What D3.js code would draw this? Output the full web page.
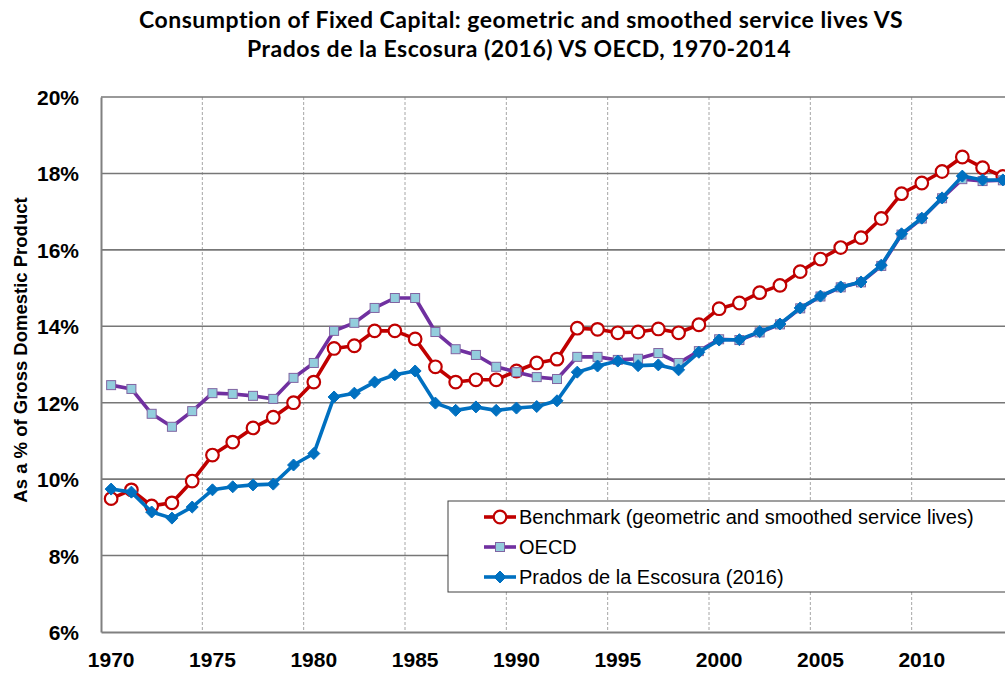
<!DOCTYPE html>
<html lang="en">
<head>
<meta charset="UTF-8">
<title>Consumption of Fixed Capital</title>
<style>
    body { margin: 0; background: #fff; }
    svg { display: block; }
    .title { font-family: Lato, "Liberation Sans Narrow", sans-serif; font-weight: bold; font-size: 23px; letter-spacing: 0.5px; fill: #000; }
    .tick-label { font-family: "Liberation Sans", Arial, sans-serif; font-weight: bold; font-size: 21px; fill: #000; }
    .axis-title { font-family: "Liberation Sans", Arial, sans-serif; font-weight: bold; font-size: 18.5px; fill: #000; }
    .legend text { font-family: "Liberation Sans", Arial, sans-serif; font-size: 20px; fill: #000; }
</style>
</head>
<body>
<svg width="1005" height="673"></svg>
<script src="https://d3js.org/d3.v7.min.js"></script>
<script>
    // categories
    const years = d3.range(1970, 2015);
    const xTickYears = [1970, 1975, 1980, 1985, 1990, 1995, 2000, 2005, 2010];
    const yTicks = [6, 8, 10, 12, 14, 16, 18, 20];

    // series values (% of GDP)
    const benchmark = [9.49, 9.72, 9.30, 9.38, 9.95, 10.63, 10.97, 11.34, 11.62, 12.00,
        12.54, 13.42, 13.49, 13.88, 13.88, 13.67, 12.94, 12.54, 12.60, 12.60,
        12.83, 13.04, 13.14, 13.95, 13.92, 13.83, 13.85, 13.93, 13.83, 14.04,
        14.46, 14.61, 14.88, 15.07, 15.43, 15.76, 16.06, 16.32, 16.82, 17.47,
        17.75, 18.05, 18.43, 18.15, 17.92];
    const oecd = [12.46, 12.36, 11.71, 11.37, 11.78, 12.25, 12.23, 12.18, 12.10, 12.65,
        13.04, 13.88, 14.09, 14.48, 14.74, 14.74, 13.85, 13.40, 13.25, 12.94,
        12.80, 12.67, 12.62, 13.20, 13.20, 13.12, 13.15, 13.30, 13.04, 13.35,
        13.66, 13.64, 13.84, 14.05, 14.47, 14.78, 15.02, 15.15, 15.58, 16.40,
        16.82, 17.35, 17.85, 17.80, 17.82];
    const prados = [9.74, 9.66, 9.14, 8.98, 9.27, 9.72, 9.80, 9.85, 9.87, 10.37,
        10.67, 12.15, 12.25, 12.54, 12.73, 12.83, 11.99, 11.80, 11.89, 11.80,
        11.86, 11.90, 12.05, 12.80, 12.96, 13.09, 12.97, 12.99, 12.86, 13.32,
        13.64, 13.65, 13.86, 14.06, 14.48, 14.79, 15.03, 15.16, 15.60, 16.42,
        16.83, 17.36, 17.93, 17.83, 17.83];

    const seriesNames = ["Benchmark (geometric and smoothed service lives)", "OECD", "Prados de la Escosura (2016)"];

    const series = [
        { name: seriesNames[0], values: benchmark, color: "#C00000", marker: "circle" },
        { name: seriesNames[1], values: oecd, color: "#7030A0", marker: "square" },
        { name: seriesNames[2], values: prados, color: "#0070C0", marker: "diamond" }
    ];

    const svg = d3.select("svg");
    const plotLeft = 101, plotTop = 97, plotBottom = 632;

    const x = d3.scaleBand().domain(years).range([plotLeft, 1013]);
    const y = d3.scaleLinear().domain([6, 20]).range([plotBottom, plotTop]);
    const cx = yr => x(yr) + x.bandwidth() / 2;

    // title
    const title = svg.append("text").attr("class", "title").attr("text-anchor", "middle");
    title.append("tspan").attr("x", 521).attr("y", 28)
        .text("Consumption of Fixed Capital: geometric and smoothed service lives VS");
    title.append("tspan").attr("x", 519).attr("y", 57)
        .text("Prados de la Escosura (2016) VS OECD, 1970-2014");

    // vertical dashed gridlines
    svg.append("g").selectAll("line")
        .data(xTickYears.slice(1))
        .enter().append("line")
        .attr("x1", d => x(d)).attr("x2", d => x(d))
        .attr("y1", plotTop).attr("y2", plotBottom)
        .style("stroke", "#a6a6a6")
        .style("stroke-width", 1)
        .style("stroke-dasharray", "3,2");

    // horizontal gridlines
    svg.append("g").selectAll("line")
        .data(yTicks.slice(1))
        .enter().append("line")
        .attr("x1", plotLeft).attr("x2", 1005)
        .attr("y1", d => y(d)).attr("y2", d => y(d))
        .style("stroke", "#777")
        .style("stroke-width", 1.6);

    // axes
    const yAxis = svg.append("g")
        .attr("transform", `translate(${plotLeft},0)`)
        .call(d3.axisLeft(y).tickValues(yTicks).tickFormat(d => d + "%").tickSize(0).tickPadding(22));
    yAxis.select(".domain").style("stroke", "#808080").style("stroke-width", 2);
    yAxis.selectAll("text").attr("class", "tick-label").attr("dy", "0.36em");

    const xAxis = svg.append("g")
        .attr("transform", `translate(0,${plotBottom})`)
        .call(d3.axisBottom(x).tickValues(xTickYears).tickSize(0).tickPadding(20));
    xAxis.select(".domain").style("stroke", "#808080").style("stroke-width", 2);
    xAxis.selectAll("text").attr("class", "tick-label");

    svg.append("text")
        .attr("class", "axis-title")
        .attr("text-anchor", "middle")
        .attr("transform", "translate(27,350) rotate(-90)")
        .text("As a % of Gross Domestic Product");

    // markers
    function drawMarker(sel, s) {
        if (s.marker === "circle") {
            sel.append("circle").attr("r", 6.3)
                .style("fill", "#fff").style("stroke", s.color).style("stroke-width", 2.2);
        } else if (s.marker === "square") {
            sel.append("rect").attr("x", -4.5).attr("y", -4.5).attr("width", 9).attr("height", 9)
                .style("fill", "#93CDDD").style("stroke", "#8064A2").style("stroke-width", 1);
        } else {
            sel.append("path").attr("d", "M0,-6L6,0L0,6L-6,0Z")
                .style("fill", s.color).style("stroke", s.color).style("stroke-width", 1);
        }
    }

    const line = d3.line()
        .x((d, i) => cx(years[i]))
        .y(d => y(d));

    series.forEach(s => {
        const g = svg.append("g");
        g.append("path")
            .datum(s.values)
            .attr("d", line)
            .style("fill", "none")
            .style("stroke", s.color)
            .style("stroke-width", 3.6)
            .style("stroke-linejoin", "round");
        g.selectAll(".pt")
            .data(s.values)
            .enter().append("g")
            .attr("class", "pt")
            .attr("transform", (d, i) => `translate(${cx(years[i])},${y(d)})`)
            .each(function () { drawMarker(d3.select(this), s); });
    });

    // legend
    const legend = svg.append("g").attr("class", "legend");
    legend.append("rect")
        .attr("x", 448).attr("y", 501).attr("width", 570).attr("height", 91)
        .style("fill", "#fff").style("stroke", "#404040").style("stroke-width", 1);
    series.forEach((s, i) => {
        const ly = 517 + i * 30;
        const row = legend.append("g");
        row.append("line")
            .attr("x1", 484).attr("x2", 516).attr("y1", ly).attr("y2", ly)
            .style("stroke", s.color).style("stroke-width", 3.6);
        const m = row.append("g").attr("transform", `translate(500,${ly})`);
        drawMarker(m, s);
        row.append("text").attr("x", 519).attr("y", ly).attr("dy", "0.35em").text(s.name);
    });
</script>
</body>
</html>
